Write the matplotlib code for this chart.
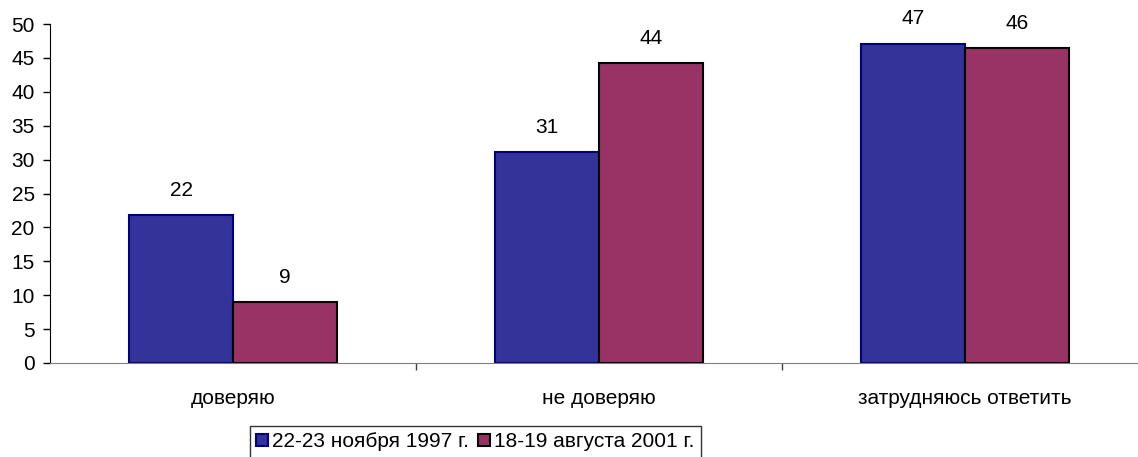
import matplotlib
matplotlib.use('Agg')
from matplotlib import pyplot as plt
import numpy as np

categories = ['доверяю', 'не доверяю', 'затрудняюсь ответить']
series_names = ['22-23 ноября 1997 г.', '18-19 августа 2001 г.']
values_1997 = [21.8, 31.1, 47.1]
values_2001 = [9.0, 44.2, 46.4]
labels_1997 = ['22', '31', '47']
labels_2001 = ['9', '44', '46']
yticks = [0, 5, 10, 15, 20, 25, 30, 35, 40, 45, 50]

plt.rcParams['font.family'] = ['Liberation Sans', 'DejaVu Sans']
fs = 15

fig = plt.figure(figsize=(11.38, 4.57), dpi=100)
# ось выходит за правый край, как в оригинале
ax = fig.add_axes([50 / 1138, 94 / 457, 1098 / 1138, 339 / 457])

x = np.arange(len(categories))
w = 0.284
b1 = ax.bar(x - w / 2, values_1997, w, color='#333399', edgecolor='#000080', linewidth=1.5, label=series_names[0])
b2 = ax.bar(x + w / 2, values_2001, w, color='#993366', edgecolor='black', linewidth=1.5, label=series_names[1])

for bars, labs in ((b1, labels_1997), (b2, labels_2001)):
    for r, t in zip(bars, labs):
        ax.annotate(t, (r.get_x() + r.get_width() / 2, r.get_height()), xytext=(0, 11),
                    textcoords='offset points', ha='center', va='bottom', fontsize=fs)

ax.set_xlim(-0.5, 2.5)
ax.set_ylim(0, 50)
ax.set_yticks(yticks)
ax.tick_params(axis='y', direction='out', length=5, width=1, labelsize=fs, pad=6)

ax.set_xticks([0.5, 1.5])
ax.set_xticklabels([])
ax.set_xticks(x, minor=True)
ax.set_xticklabels(categories, minor=True, fontsize=fs)
ax.tick_params(axis='x', which='major', direction='out', length=5, width=1, color='#404040')
ax.tick_params(axis='x', which='minor', length=0, pad=19)

ax.spines['right'].set_color('none')
ax.spines['top'].set_color('none')
ax.spines['bottom'].set_color('#808080')
ax.spines['left'].set_color('black')

leg = fig.legend(loc='upper left', bbox_to_anchor=(250 / 1138, 31 / 457), ncol=2, fontsize=fs,
                 frameon=True, fancybox=False, edgecolor='black', handlelength=0.55, handleheight=0.55,
                 handletextpad=0.2, columnspacing=0.45, borderpad=0.3, borderaxespad=0)
leg.get_frame().set_linewidth(1)

fig.savefig('out.png', dpi=100)
